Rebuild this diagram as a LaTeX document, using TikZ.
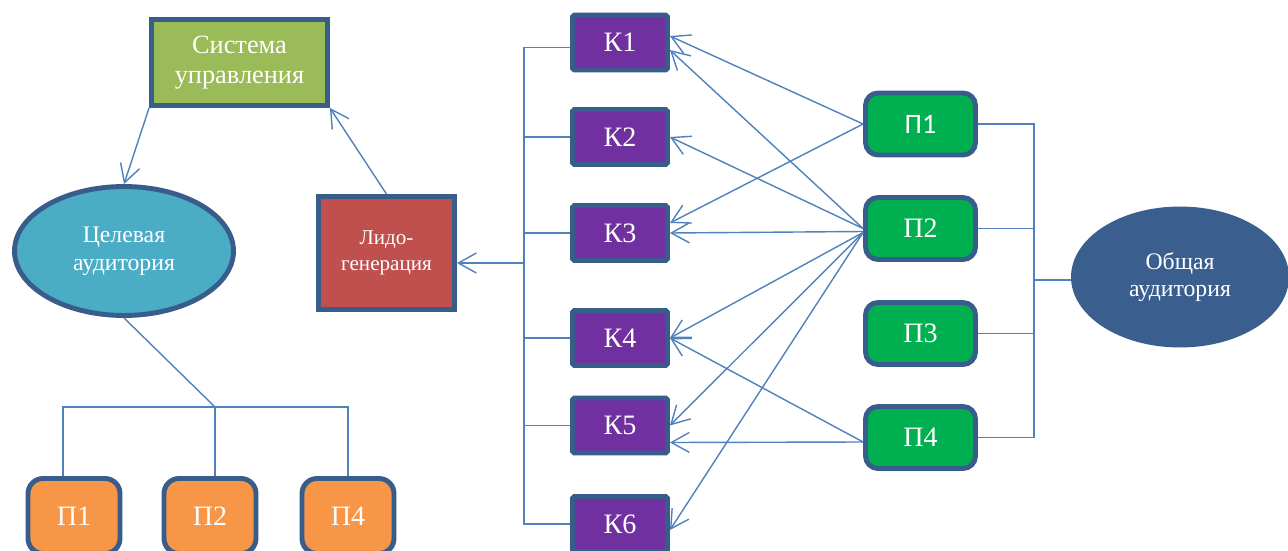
\documentclass[tikz,border=0pt]{standalone}
\usepackage{fontspec}
\setmainfont{Liberation Serif}
\newfontfamily\calfont{Carlito}
\usetikzlibrary{arrows.meta,shapes.geometric}

\definecolor{linec}{HTML}{4F81BD}
\definecolor{bordc}{HTML}{385D8A}
\definecolor{sysc}{HTML}{9BBB59}
\definecolor{audc}{HTML}{4BACC6}
\definecolor{lidc}{HTML}{C0504D}
\definecolor{orngc}{HTML}{F79646}
\definecolor{purpc}{HTML}{7030A0}
\definecolor{grnc}{HTML}{00B050}
\definecolor{genc}{HTML}{3A5F8E}

\begin{document}
\begin{tikzpicture}[x=0.02cm,y=-0.02cm,
  box/.style={draw=bordc, line width=2.8pt, text=white, align=center, inner sep=0pt},
  sysbox/.style={box, fill=sysc, minimum width=3.52cm, minimum height=1.72cm,
    font=\fontsize{15}{17}\selectfont},
  audell/.style={box, ellipse, fill=audc, minimum width=4.38cm, minimum height=2.58cm,
    font=\fontsize{13.5}{16}\selectfont},
  lidbox/.style={box, fill=lidc, minimum width=2.72cm, minimum height=2.26cm,
    font=\fontsize{12}{14.7}\selectfont},
  obox/.style={box, fill=orngc, minimum width=1.84cm, minimum height=1.5cm,
    rounded corners=0.3cm, font=\fontsize{16}{18}\selectfont},
  kbox/.style={box, fill=purpc, minimum width=1.9cm, minimum height=1.1cm,
    rounded corners=1pt, font=\fontsize{16}{18}\selectfont},
  pbox/.style={box, fill=grnc, minimum width=2.2cm, minimum height=1.24cm,
    rounded corners=0.25cm, font=\fontsize{16}{18}\selectfont},
  genell/.style={ellipse, fill=genc, text=white, align=center, inner sep=0pt,
    minimum width=4.36cm, minimum height=2.82cm, font=\fontsize{13.5}{15.4}\selectfont},
  conn/.style={draw=linec, line width=0.8pt},
  arr/.style={conn, -{Straight Barb[length=0.36cm,width=0.4cm]}}
]
\useasboundingbox (0,0) rectangle (1288,551);

% left part
\node[sysbox] (sys) at (239.5,62.5) {Система\\управления};
\node[audell] (aud) at (124,251) {Целевая\\аудитория};
\node[lidbox] (lid) at (386.5,253) {Лидо-\\генерация};
\node[obox] (o1) at (74,516) {П1};
\node[obox] (o2) at (210,516) {П2};
\node[obox] (o4) at (348,516) {П4};

% channels
\node[kbox] (k1) at (620,42.5) {К1};
\node[kbox] (k2) at (620,137) {К2};
\node[kbox] (k3) at (620,233) {К3};
\node[kbox] (k4) at (620,338) {К4};
\node[kbox] (k5) at (620,425.5) {К5};
\node[kbox] (k6) at (620,524) {К6};

% products
\node[pbox] (p1) at (920.5,124) {\calfont П1};
\node[pbox] (p2) at (920.5,228.5) {П2};
\node[pbox] (p3) at (920.5,333.5) {П3};
\node[pbox] (p4) at (920.5,437.5) {П4};

\node[genell] (gen) at (1180,277) {Общая\\аудитория};

% loop between control system, audience and lead generation
\draw[arr] (sys.south west) -- (aud.north);
\draw[arr] (lid.north) -- (sys.south east);

% target audience tree
\coordinate (j1) at (215,407);
\draw[conn] (aud.south) -- (j1);
\draw[conn] ([xshift=-0.22cm]o1.north) |- (j1) -| (o4.north);
\draw[conn] (j1) -- (j1 |- o2.north);

% channel bus
\coordinate (kb) at (524,263);
\draw[conn] ([yshift=-0.1cm]k1.west) -| (kb |- k6.west) -- (k6.west);
\foreach \k in {k2,k3,k4,k5} \draw[conn] (\k.west) -- (\k.west -| kb);
\draw[arr] (kb) -- (kb -| lid.east);

% product bus
\coordinate (pb) at (1034,280);
\draw[conn] (p1.east) -| (pb |- p4.east) -- (p4.east);
\draw[conn] (p2.east) -- (p2.east -| pb);
\draw[conn] (p3.east) -- (p3.east -| pb);
\draw[conn] (pb) -- (pb -| gen.west);

% product to channel links
\draw[arr] (p1.west) -- ([yshift=0.13cm]k1.east);
\draw[arr] (p2.west) -- ([yshift=-0.15cm]k1.east);
\draw[arr] (p1.west) -- ([yshift=0.2cm]k3.east);
\draw[arr] (p2.west) -- (k2.east);
\draw[arr] ([yshift=-0.06cm]p2.west) -- (k3.east);
\draw[arr] ([yshift=-0.08cm]p2.west) -- (k4.east);
\draw[arr] ([yshift=-0.08cm]p2.west) -- (k5.east);
\draw[arr] ([yshift=-0.08cm]p2.west) -- ([yshift=-0.12cm]k6.east);
\draw[arr] ([yshift=-0.09cm]p4.west) -- (k4.east);
\draw[arr] ([yshift=-0.09cm]p4.west) -- ([yshift=-0.34cm]k5.east);
\end{tikzpicture}
\end{document}
